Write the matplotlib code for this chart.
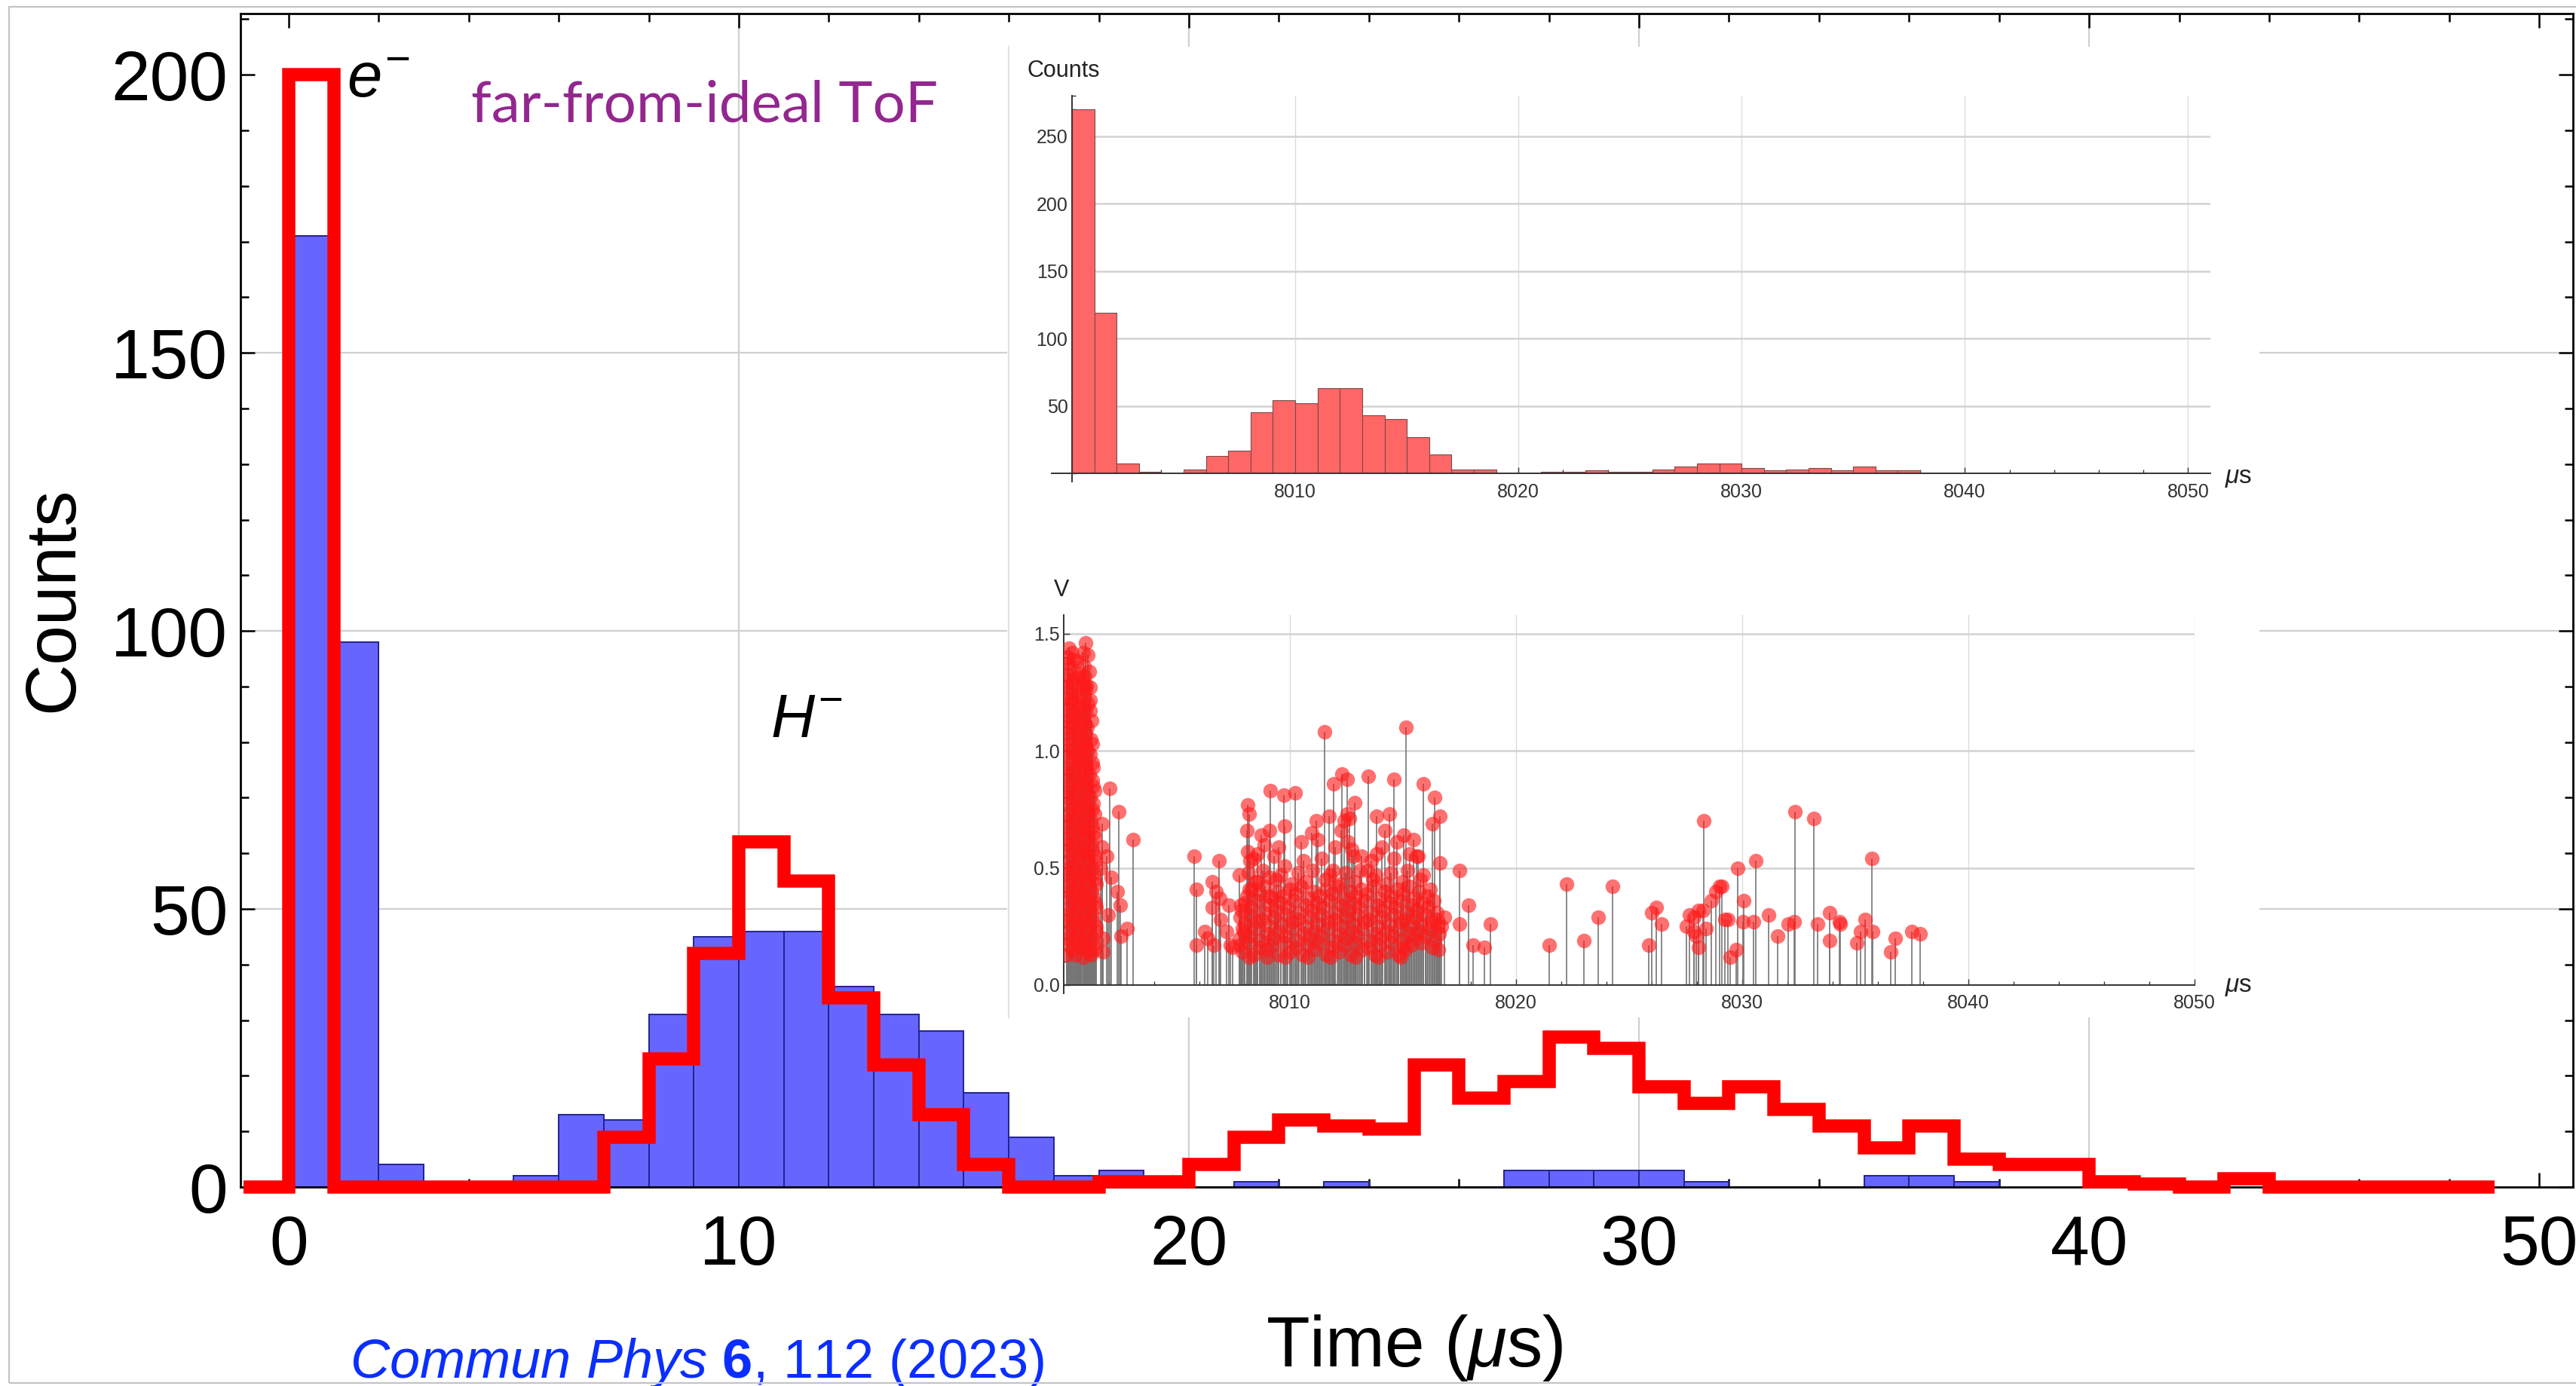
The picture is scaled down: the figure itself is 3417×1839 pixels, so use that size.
import numpy as np
import matplotlib
matplotlib.use("Agg")
import matplotlib.pyplot as plt
from matplotlib.patches import Rectangle
from matplotlib.ticker import MultipleLocator, FixedLocator

W, H, DPI = 3417, 1839, 200

plt.rcParams["font.family"] = ["Liberation Sans", "DejaVu Sans"]
plt.rcParams["mathtext.fontset"] = "custom"
plt.rcParams["mathtext.rm"] = "Liberation Sans"
plt.rcParams["mathtext.it"] = "Liberation Sans:italic"
plt.rcParams["mathtext.bf"] = "Liberation Sans:bold"

# ---------------- main panel: ToF histograms (1 us bins) ----------------
sim_edges = list(range(0, 39))
sim_counts = [171, 98, 4, 0, 0, 2, 13, 12, 31, 45, 46, 46, 36, 31, 28, 17, 9, 2, 3, 0,
              0, 1, 0, 1, 0, 0, 0, 3, 3, 3, 3, 1, 0, 0, 0, 2, 2, 1]

meas_edges = list(range(-1, 50))
meas_counts = [0, 200, 0, 0, 0, 0, 0, 0, 9, 23, 42, 62, 55, 34, 22, 13, 4, 0, 0, 1,
               1, 4, 9, 12, 11, 10.5, 22, 16, 19, 27, 25, 18, 15, 18, 14, 11, 7, 11, 5, 4,
               4, 1, 0.5, 0, 1.5, 0, 0, 0, 0, 0]

# ---------------- inset: raw counts around 8000 us ----------------
raw_edges = list(range(8000, 8039))
raw_counts = [270, 119, 7, 1, 0, 3, 13, 17, 45, 54, 52, 63, 63, 43, 40, 27, 14, 3, 3, 0,
              0, 1, 1, 2, 1, 1, 3, 5, 7, 7, 4, 2, 3, 4, 2, 5, 2, 2]

# ---------------- inset: individual pulse heights (time, volts) ----------------
pulses_electron = [
    (8000.22, 1.44), (8000.35, 1.42), (8000.97, 1.46),
    (8000.15, 1.40), (8000.45, 1.39), (8001.05, 1.41),
    (8000.28, 1.35), (8000.62, 1.33), (8000.90, 1.36), (8001.12, 1.34),
    (8000.12, 1.30), (8000.40, 1.29), (8000.78, 1.31), (8001.00, 1.28),
    (8000.25, 1.25), (8000.55, 1.24), (8000.95, 1.26), (8001.15, 1.27),
    (8000.14, 1.20), (8000.38, 1.21), (8000.70, 1.19), (8001.05, 1.20),
    (8000.28, 1.15), (8000.52, 1.16), (8000.88, 1.14), (8001.18, 1.17),
    (8000.12, 1.10), (8000.42, 1.11), (8000.75, 1.09), (8001.02, 1.10),
    (8000.24, 1.05), (8000.60, 1.06), (8000.92, 1.04), (8001.20, 1.05),
    (8000.15, 1.00), (8000.45, 0.99), (8000.78, 1.01), (8001.08, 1.00),
    (8000.30, 0.95), (8000.62, 0.96), (8000.98, 0.94), (8001.25, 0.95),
    (8000.12, 0.90), (8000.48, 0.91), (8000.82, 0.89), (8001.12, 0.90),
    (8000.26, 0.85), (8000.65, 0.86), (8001.00, 0.84), (8001.30, 0.85),
    (8000.15, 0.80), (8000.45, 0.81), (8000.85, 0.79), (8001.18, 0.80),
    (8000.32, 0.75), (8000.68, 0.76), (8001.05, 0.74), (8001.28, 0.75),
    (8000.12, 0.70), (8000.50, 0.71), (8000.88, 0.69), (8001.20, 0.70),
    (8000.28, 0.65), (8000.70, 0.66), (8001.02, 0.64), (8001.32, 0.65),
    (8000.16, 0.60), (8000.52, 0.61), (8000.85, 0.59), (8001.22, 0.60),
    (8000.34, 0.55), (8000.72, 0.56), (8001.08, 0.54), (8001.35, 0.55),
    (8000.12, 0.50), (8000.50, 0.51), (8000.90, 0.49), (8001.25, 0.50),
    (8000.30, 0.45), (8000.68, 0.46), (8001.05, 0.44), (8001.38, 0.45),
    (8000.18, 0.40), (8000.55, 0.41), (8000.88, 0.39), (8001.22, 0.40),
    (8000.36, 0.35), (8000.75, 0.36), (8001.10, 0.34), (8001.40, 0.35),
    (8000.14, 0.30), (8000.52, 0.31), (8000.92, 0.29), (8001.28, 0.30),
    (8000.32, 0.25), (8000.70, 0.26), (8001.08, 0.24), (8001.42, 0.25),
    (8000.18, 0.20), (8000.55, 0.21), (8000.90, 0.19), (8001.25, 0.20),
    (8000.35, 0.15), (8000.72, 0.16), (8001.05, 0.14), (8001.38, 0.15),
    (8000.12, 0.13), (8000.50, 0.13), (8000.88, 0.12), (8001.20, 0.13),
    (8000.20, 1.375), (8000.55, 1.385), (8000.85, 1.42),
    (8000.20, 1.325), (8000.58, 1.315), (8000.92, 1.32),
    (8000.20, 1.275), (8000.58, 1.27), (8000.90, 1.28),
    (8000.22, 1.225), (8000.56, 1.22), (8000.92, 1.23), (8001.18, 1.215),
    (8000.20, 1.175), (8000.60, 1.18), (8000.95, 1.17),
    (8000.22, 1.125), (8000.58, 1.13), (8000.92, 1.12), (8001.22, 1.13),
    (8000.20, 1.075), (8000.55, 1.08), (8000.95, 1.07),
    (8000.22, 1.025), (8000.60, 1.03), (8000.92, 1.02), (8001.25, 1.03),
    (8000.20, 0.975), (8000.55, 0.98), (8000.90, 0.97), (8001.15, 0.985),
    (8000.22, 0.925), (8000.62, 0.93), (8000.98, 0.92), (8001.30, 0.93),
    (8000.20, 0.875), (8000.55, 0.88), (8000.92, 0.87), (8001.25, 0.875),
    (8000.22, 0.825), (8000.60, 0.83), (8000.98, 0.82), (8001.35, 0.83),
    (8000.20, 0.775), (8000.55, 0.78), (8000.92, 0.77), (8001.30, 0.775),
    (8000.22, 0.725), (8000.60, 0.73), (8000.98, 0.72), (8001.35, 0.73),
    (8000.20, 0.675), (8000.55, 0.68), (8000.90, 0.67), (8001.25, 0.675),
    (8000.22, 0.625), (8000.62, 0.63), (8000.98, 0.62), (8001.38, 0.63),
    (8000.20, 0.575), (8000.58, 0.58), (8000.92, 0.57), (8001.28, 0.575),
    (8000.22, 0.525), (8000.62, 0.53), (8000.98, 0.52), (8001.40, 0.53),
    (8000.20, 0.475), (8000.58, 0.48), (8000.92, 0.47), (8001.30, 0.475),
    (8000.22, 0.425), (8000.62, 0.43), (8000.98, 0.42), (8001.42, 0.43),
    (8000.20, 0.375), (8000.58, 0.38), (8000.92, 0.37), (8001.30, 0.375),
    (8000.22, 0.325), (8000.62, 0.33), (8000.98, 0.32), (8001.42, 0.33),
    (8000.20, 0.275), (8000.58, 0.28), (8000.92, 0.27), (8001.30, 0.275),
    (8000.22, 0.225), (8000.62, 0.23), (8000.98, 0.22), (8001.42, 0.23),
    (8000.20, 0.175), (8000.58, 0.18), (8000.92, 0.17), (8001.30, 0.175),
    (8001.63, 0.50), (8001.69, 0.69), (8001.69, 0.59), (8001.72, 0.20), (8001.72, 0.14),
    (8001.91, 0.55), (8001.97, 0.30), (8002.02, 0.84), (8002.10, 0.46), (8002.36, 0.40),
    (8002.43, 0.74), (8002.50, 0.34), (8002.54, 0.21), (8002.80, 0.24), (8003.06, 0.62),
]

pulses_ion = [
    # sparse edges of the bunch
    (8005.77, 0.55), (8005.88, 0.41), (8005.85, 0.17), (8006.24, 0.23), (8006.36, 0.20),
    (8006.58, 0.44), (8006.58, 0.33), (8006.63, 0.17), (8006.74, 0.40), (8006.86, 0.53),
    (8006.91, 0.37), (8006.94, 0.28), (8007.19, 0.23), (8007.30, 0.34), (8007.36, 0.17),
    (8007.47, 0.16), (8007.77, 0.47), (8007.83, 0.34), (8007.91, 0.24),
    (8008.13, 0.77), (8008.21, 0.73), (8008.10, 0.66), (8008.13, 0.57), (8008.19, 0.41),
    (8008.24, 0.53), (8008.52, 0.44), (8008.58, 0.56), (8008.72, 0.64), (8008.86, 0.60),
    (8009.10, 0.66), (8009.13, 0.83), (8009.10, 0.46), (8009.10, 0.38), (8009.50, 0.59),
    (8009.72, 0.81), (8009.77, 0.68), (8009.75, 0.51), (8010.24, 0.82), (8010.49, 0.61),
    (8010.97, 0.65), (8011.17, 0.70), (8011.24, 0.62), (8011.54, 1.08), (8011.74, 0.72),
    (8011.94, 0.86), (8011.91, 0.49), (8012.00, 0.59), (8012.25, 0.66), (8012.30, 0.90),
    (8012.39, 0.70), (8012.52, 0.88), (8012.54, 0.73), (8012.58, 0.61), (8012.63, 0.71),
    (8012.88, 0.78), (8012.74, 0.58), (8013.17, 0.55), (8013.47, 0.89), (8013.43, 0.49),
    (8013.83, 0.72), (8013.82, 0.56), (8014.06, 0.59), (8014.21, 0.66), (8014.41, 0.73),
    (8014.59, 0.88), (8014.72, 0.61), (8015.02, 0.64), (8015.12, 1.10), (8015.30, 0.56),
    (8015.47, 0.62), (8015.66, 0.55), (8015.91, 0.86), (8016.30, 0.69), (8016.41, 0.80),
    (8016.63, 0.72), (8016.63, 0.52), (8016.83, 0.29), (8016.58, 0.15), (8016.52, 0.25),
    (8017.50, 0.49), (8017.50, 0.26), (8017.91, 0.34), (8018.10, 0.17), (8018.61, 0.16),
    (8018.85, 0.26),
    # dense core of the bunch
    (8007.90, 0.14), (8008.40, 0.13), (8008.95, 0.15), (8009.50, 0.13), (8010.00, 0.14),
    (8010.55, 0.13), (8011.10, 0.15), (8011.60, 0.13), (8012.15, 0.14), (8012.70, 0.13),
    (8013.20, 0.15), (8013.75, 0.13), (8014.30, 0.14), (8014.80, 0.13), (8015.10, 0.15),
    (8007.75, 0.20), (8008.20, 0.21), (8008.70, 0.19), (8009.25, 0.20), (8009.80, 0.21),
    (8010.30, 0.19), (8010.85, 0.20), (8011.35, 0.21), (8011.90, 0.19), (8012.45, 0.20),
    (8012.95, 0.21), (8013.50, 0.19), (8014.00, 0.20), (8014.55, 0.21), (8015.00, 0.19),
    (8015.50, 0.20), (8016.00, 0.21), (8016.40, 0.19),
    (8008.00, 0.26), (8008.50, 0.27), (8009.05, 0.25), (8009.60, 0.26), (8010.10, 0.27),
    (8010.65, 0.25), (8011.20, 0.26), (8011.70, 0.27), (8012.25, 0.25), (8012.80, 0.26),
    (8013.30, 0.27), (8013.85, 0.25), (8014.35, 0.26), (8014.90, 0.27), (8015.35, 0.25),
    (8015.80, 0.26), (8016.25, 0.27), (8016.70, 0.25),
    (8007.85, 0.32), (8008.30, 0.33), (8008.85, 0.31), (8009.35, 0.32), (8009.90, 0.33),
    (8010.40, 0.31), (8010.95, 0.32), (8011.45, 0.33), (8012.00, 0.31), (8012.55, 0.32),
    (8013.05, 0.33), (8013.60, 0.31), (8014.10, 0.32), (8014.65, 0.33), (8015.15, 0.31),
    (8015.60, 0.32), (8016.10, 0.33), (8016.50, 0.31),
    (8008.10, 0.38), (8008.65, 0.39), (8009.20, 0.37), (8009.70, 0.38), (8010.25, 0.39),
    (8010.80, 0.37), (8011.30, 0.38), (8011.85, 0.39), (8012.35, 0.37), (8012.90, 0.38),
    (8013.40, 0.39), (8013.95, 0.37), (8014.45, 0.38), (8015.00, 0.39), (8015.50, 0.37),
    (8016.05, 0.38),
    (8008.45, 0.44), (8009.40, 0.45), (8010.05, 0.43), (8010.70, 0.44), (8011.55, 0.45),
    (8012.20, 0.43), (8012.85, 0.44), (8013.65, 0.45), (8014.25, 0.43), (8014.95, 0.44),
    (8015.75, 0.45),
    (8007.80, 0.17), (8008.15, 0.18), (8008.65, 0.16), (8009.20, 0.17), (8009.75, 0.18),
    (8010.25, 0.16), (8010.80, 0.17), (8011.30, 0.18), (8011.85, 0.16), (8012.40, 0.17),
    (8012.90, 0.18), (8013.45, 0.16), (8013.95, 0.17), (8014.50, 0.18), (8015.00, 0.16),
    (8015.35, 0.17), (8015.80, 0.18), (8016.30, 0.16),
    (8007.95, 0.23), (8008.45, 0.24), (8009.00, 0.22), (8009.50, 0.23), (8010.05, 0.24),
    (8010.60, 0.22), (8011.10, 0.23), (8011.65, 0.24), (8012.15, 0.22), (8012.70, 0.23),
    (8013.20, 0.24), (8013.75, 0.22), (8014.25, 0.23), (8014.80, 0.24), (8015.25, 0.22),
    (8015.70, 0.23), (8016.15, 0.24), (8016.60, 0.22),
    (8007.80, 0.29), (8008.25, 0.30), (8008.75, 0.28), (8009.30, 0.29), (8009.85, 0.30),
    (8010.35, 0.28), (8010.90, 0.29), (8011.40, 0.30), (8011.95, 0.28), (8012.50, 0.29),
    (8013.00, 0.30), (8013.50, 0.28), (8014.05, 0.29), (8014.60, 0.30), (8015.10, 0.28),
    (8015.55, 0.29), (8016.00, 0.30), (8016.45, 0.28),
    (8008.00, 0.35), (8008.55, 0.36), (8009.10, 0.34), (8009.60, 0.35), (8010.15, 0.36),
    (8010.70, 0.34), (8011.20, 0.35), (8011.75, 0.36), (8012.25, 0.34), (8012.80, 0.35),
    (8013.30, 0.36), (8013.85, 0.34), (8014.40, 0.35), (8014.90, 0.36), (8015.40, 0.34),
    (8015.85, 0.35), (8016.35, 0.36),
    (8008.30, 0.41), (8008.90, 0.42), (8009.45, 0.40), (8010.00, 0.41), (8010.50, 0.42),
    (8011.05, 0.40), (8011.60, 0.41), (8012.10, 0.42), (8012.65, 0.40), (8013.15, 0.41),
    (8013.70, 0.42), (8014.20, 0.40), (8014.75, 0.41), (8015.25, 0.42), (8015.70, 0.40),
    (8016.20, 0.41),
    (8008.15, 0.48), (8008.80, 0.49), (8009.60, 0.47), (8010.35, 0.48), (8011.00, 0.49),
    (8011.75, 0.47), (8012.45, 0.48), (8013.10, 0.49), (8013.80, 0.47), (8014.45, 0.48),
    (8015.20, 0.49), (8015.90, 0.47),
    (8008.40, 0.54), (8009.30, 0.55), (8010.60, 0.53), (8011.40, 0.54), (8012.80, 0.55),
    (8013.60, 0.53), (8014.60, 0.54), (8015.60, 0.55),
    (8008.20, 0.12), (8009.00, 0.12), (8009.80, 0.12), (8010.80, 0.12), (8011.80, 0.12),
    (8012.90, 0.12), (8013.90, 0.12), (8014.90, 0.12),
]

pulses_late = [
    (8021.48, 0.17), (8022.22, 0.43), (8023.00, 0.19), (8023.64, 0.29), (8024.26, 0.42),
    (8025.88, 0.17), (8025.99, 0.31), (8026.19, 0.33), (8026.43, 0.26), (8027.54, 0.25),
    (8027.67, 0.30), (8027.86, 0.29), (8027.86, 0.23), (8027.95, 0.21), (8028.08, 0.16),
    (8028.08, 0.32), (8028.28, 0.32), (8028.29, 0.70), (8028.41, 0.24), (8028.64, 0.36),
    (8028.82, 0.40), (8029.01, 0.42), (8029.10, 0.42), (8029.23, 0.28), (8029.35, 0.28),
    (8029.48, 0.12), (8029.74, 0.15), (8029.80, 0.50), (8030.03, 0.27), (8030.07, 0.36),
    (8030.51, 0.27), (8030.60, 0.53), (8031.18, 0.30), (8031.56, 0.21), (8032.03, 0.26),
    (8032.29, 0.27), (8032.32, 0.74), (8033.16, 0.71), (8033.32, 0.26), (8033.88, 0.19),
    (8033.88, 0.31), (8034.30, 0.27), (8034.33, 0.26), (8035.07, 0.18), (8035.22, 0.23),
    (8035.43, 0.28), (8035.73, 0.54), (8035.77, 0.23), (8036.57, 0.14), (8036.77, 0.20),
    (8037.49, 0.23), (8037.85, 0.22),
]

# ---------------- figure ----------------
fig = plt.figure(figsize=(W / DPI, H / DPI), dpi=DPI)


def fx(px):
    return px / W


def fy(py):
    return 1 - py / H


ax = fig.add_axes([fx(319), fy(1575), (3413 - 319) / W, (1575 - 18) / H])
ax.set_xlim(-1.07, 50.75)
ax.set_ylim(0, 211)
for gx in [10, 20, 30, 40]:
    ax.axvline(gx, color="#d0d0d0", lw=0.8, zorder=0)
for gy in [50, 100, 150]:
    ax.axhline(gy, color="#d0d0d0", lw=0.8, zorder=0)

ax.bar(sim_edges[:-1], sim_counts, width=1, align="edge", color="#6666ff",
       edgecolor="#23238f", linewidth=0.7, zorder=2)
step = ax.stairs(meas_counts, meas_edges, baseline=None, color="#ff0000",
                 linewidth=6.3, zorder=3, clip_on=False)
step.set_joinstyle("miter")

ax.xaxis.set_major_locator(MultipleLocator(10))
ax.xaxis.set_minor_locator(MultipleLocator(2))
ax.yaxis.set_major_locator(MultipleLocator(50))
ax.yaxis.set_minor_locator(MultipleLocator(10))
ax.tick_params(which="both", direction="in", top=True, right=True, width=0.9,
               color="black")
ax.tick_params(which="major", length=7)
ax.tick_params(which="minor", length=4)
ax.tick_params(axis="y", labelsize=33.5, pad=6)
ax.tick_params(axis="x", labelsize=33.5, pad=13)
for sp in ax.spines.values():
    sp.set_linewidth(1.0)

fig.text(fx(72), fy(795), "Counts", rotation=90, ha="center", va="center",
         fontsize=34, zorder=7)
fig.text(fx(1876), fy(1813), r"Time ($\mu$s)", ha="center", va="baseline",
         fontsize=34, zorder=7)
fig.text(fx(460), fy(129), r"$e^{-}$", ha="left", va="baseline", fontsize=30, zorder=7)
fig.text(fx(1022), fy(978), r"$H^{-}$", ha="left", va="baseline", fontsize=29, zorder=7)
fig.text(fx(625), fy(161), "far-from-ideal ToF", ha="left", va="baseline",
         fontsize=27.5, family=["Lato", "DejaVu Sans"], color="#93278f", zorder=7)
fig.text(fx(464), fy(1828), r"$\mathit{Commun\ Phys}$ $\mathbf{6}$, 112 (2023)",
         ha="left", va="baseline", fontsize=26, color="#0a2eff", zorder=7)

# white panel holding the two inset plots
fig.add_artist(Rectangle((fx(1336), fy(1350)), (2997 - 1336) / W, (1350 - 62) / H,
                         transform=fig.transFigure, facecolor="white",
                         edgecolor="none", zorder=5))
fig.add_artist(plt.Line2D([fx(1338), fx(1338)], [fy(62), fy(1350)],
                          transform=fig.transFigure, color="#e2e2e2", lw=0.8, zorder=5))


def style_inset(a, xmax, ymax, yticks, xgrid, overshoot, ylabels=None):
    a.set_zorder(6)
    a.patch.set_alpha(0)
    a.set_xlim(8000, xmax)
    a.set_ylim(0, ymax)
    for s in ["top", "right"]:
        a.spines[s].set_visible(False)
    for s in ["left", "bottom"]:
        a.spines[s].set_linewidth(0.7)
        a.spines[s].set_color("#333333")
    for gx in xgrid:
        a.axvline(gx, color="#dcdcdc", lw=0.5, zorder=0)
    for gy in yticks:
        a.axhline(gy, color="#d2d2d2", lw=0.9, zorder=0)
    a.xaxis.set_major_locator(FixedLocator([8010, 8020, 8030, 8040, 8050]))
    a.xaxis.set_minor_locator(MultipleLocator(2))
    a.yaxis.set_major_locator(FixedLocator(yticks))
    a.tick_params(which="both", direction="in", width=0.5, color="#333333",
                  labelsize=9, labelcolor="#333333")
    a.tick_params(which="major", length=3)
    a.tick_params(which="minor", length=1.8)
    a.tick_params(axis="x", pad=4.5)
    a.tick_params(axis="y", pad=2)
    if ylabels is not None:
        a.set_yticklabels(ylabels)
    # axis lines overshoot the origin slightly
    if overshoot:
        a.plot([8000 - 0.9, 8000], [0, 0], color="#333333", lw=0.7, clip_on=False)
    a.plot([8000, 8000], [0, -ymax * 0.022], color="#333333", lw=0.7, clip_on=False)


ax1 = fig.add_axes([fx(1422), fy(628), (2932 - 1422) / W, (628 - 127) / H])
style_inset(ax1, 8051, 280, [50, 100, 150, 200, 250], [8010, 8020, 8030, 8040, 8050], True)
ax1.yaxis.set_minor_locator(MultipleLocator(10))
ax1.bar(raw_edges[:-1], raw_counts, width=1, align="edge", color="#ff6666",
        edgecolor="#7a4a4a", linewidth=0.4, zorder=2)

ax2 = fig.add_axes([fx(1411), fy(1307), (2911 - 1411) / W, (1307 - 816) / H])
style_inset(ax2, 8050, 1.58, [0.0, 0.5, 1.0, 1.5], [8010, 8020, 8030, 8040, 8050], False,
            ["0.0", "0.5", "1.0", "1.5"])
ax2.yaxis.set_minor_locator(MultipleLocator(0.1))
for group in (pulses_electron, pulses_ion, pulses_late):
    t_vals = [p[0] for p in group]
    v_vals = [p[1] for p in group]
    ax2.vlines(t_vals, 0, v_vals, color="#767676", lw=0.6, zorder=2)
    ax2.plot(t_vals, v_vals, "o", ms=7, color="#ff1a1a", alpha=0.62, mec="none",
             zorder=3)

fig.text(fx(1362), fy(102), "Counts", ha="left", va="baseline", fontsize=11,
         color="#222222", zorder=7)
fig.text(fx(1398), fy(791), "V", ha="left", va="baseline", fontsize=11,
         color="#222222", zorder=7)
fig.text(fx(2951), fy(641), r"$\mu$s", ha="left", va="baseline", fontsize=12,
         color="#222222", zorder=7)
fig.text(fx(2951), fy(1316), r"$\mu$s", ha="left", va="baseline", fontsize=12,
         color="#222222", zorder=7)

# thin frame round the whole picture
fig.add_artist(Rectangle((fx(12), fy(1835)), (W - 12 + 10) / W, (1835 - 9) / H,
                         transform=fig.transFigure, fill=False, edgecolor="#c4c4c4",
                         lw=0.8, zorder=8))

fig.savefig("out.png", dpi=DPI)
